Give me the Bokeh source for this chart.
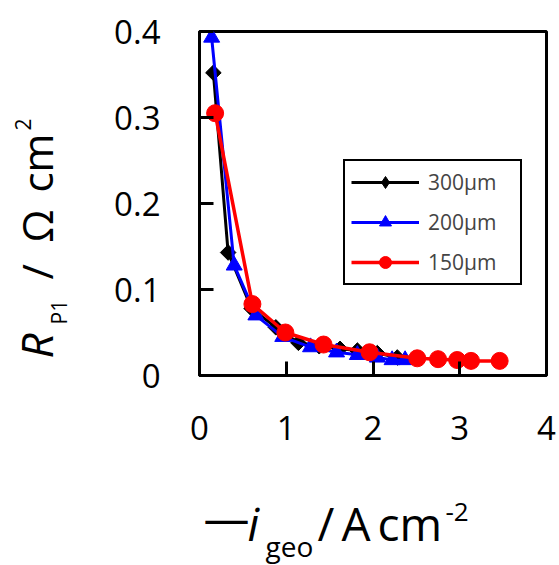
import math
from bokeh.plotting import figure
from bokeh.models import Range1d, FixedTicker, Label, Legend, LegendItem
from bokeh.layouts import row, column
from bokeh.embed import file_html
from bokeh.resources import INLINE

# ---- data ----
x300 = [0.16, 0.33, 0.60, 0.88, 1.14, 1.38, 1.62, 1.82, 2.05, 2.28]
y300 = [0.352, 0.143, 0.078, 0.056, 0.038, 0.034, 0.031, 0.029, 0.026, 0.021]

x200 = [0.14, 0.40, 0.65, 0.96, 1.28, 1.58, 1.82, 2.05, 2.22, 2.37]
y200 = [0.393, 0.128, 0.070, 0.045, 0.033, 0.027, 0.024, 0.021, 0.018, 0.018]

x150 = [0.18, 0.61, 0.99, 1.43, 1.96, 2.51, 2.75, 2.97, 3.13, 3.46]
y150 = [0.305, 0.083, 0.050, 0.036, 0.027, 0.020, 0.019, 0.018, 0.017, 0.017]

series_labels = ["300µm", "200µm", "150µm"]
x_ticks = [0, 1, 2, 3, 4]
y_ticks = [0, 0.1, 0.2, 0.3, 0.4]
y_tick_labels = ["0", "0.1", "0.2", "0.3", "0.4"]

FONT = "Open Sans"

W, H = 559, 565
LW = 80            # width of the strip holding the y-axis title
TH = 85            # height of the strip holding the x-axis title
FL, FR, FT, FB = 199, 546, 31, 375   # frame edges in page px

# ---------------- main chart ----------------
p = figure(width=W - LW, height=H - TH, output_backend="svg", toolbar_location=None,
           x_range=Range1d(0, 4), y_range=Range1d(0, 0.4),
           min_border_left=FL - LW, min_border_right=W - FR,
           min_border_top=FT, min_border_bottom=(H - TH) - FB)
p.background_fill_color = "white"
p.border_fill_color = "white"
p.outline_line_color = "black"
p.outline_line_width = 3
p.outline_line_alpha = 1
p.xgrid.visible = False
p.ygrid.visible = False

for ax in (p.xaxis[0], p.yaxis[0]):
    ax.axis_line_width = 3
    ax.axis_line_color = "black"
    ax.major_tick_in = 14
    ax.major_tick_out = 0
    ax.major_tick_line_width = 3
    ax.major_tick_line_color = "black"
    ax.minor_tick_line_color = None
    ax.major_label_text_font = FONT
    ax.major_label_text_font_size = "33px"
    ax.major_label_text_color = "black"

p.xaxis.ticker = FixedTicker(ticks=x_ticks)
p.yaxis.ticker = FixedTicker(ticks=y_ticks)
p.yaxis.major_label_overrides = {t: s for t, s in zip(y_ticks, y_tick_labels)}
p.xaxis.major_label_standoff = 40
p.yaxis.major_label_standoff = 39

l300 = p.line(x300, y300, line_color="black", line_width=3)
d300 = p.scatter(x300, y300, marker="diamond", size=13,
                 fill_color="black", line_color="black")
p.scatter(x300, y300, marker="square", angle=math.pi / 4, size=11,
          fill_color="black", line_color="black")

l200 = p.line(x200, y200, line_color="blue", line_width=3)
m200 = p.scatter(x200, y200, marker="triangle", size=16,
                 fill_color="blue", line_color="blue")

l150 = p.line(x150, y150, line_color="red", line_width=3.5)
m150 = p.scatter(x150, y150, marker="circle", size=17,
                 fill_color="red", line_color="red")

lg = Legend(items=[
    LegendItem(label=series_labels[0], renderers=[l300, d300]),
    LegendItem(label=series_labels[1], renderers=[l200, m200]),
    LegendItem(label=series_labels[2], renderers=[l150, m150]),
])
lg.location = (343 - FL, FB - 285)
lg.border_line_color = "black"
lg.border_line_width = 2
lg.border_line_alpha = 1
lg.background_fill_alpha = 1
lg.padding = 6
lg.spacing = 10
lg.margin = 0
lg.glyph_height = 30
lg.glyph_width = 68
lg.label_height = 30
lg.label_width = 86
lg.label_standoff = 9
lg.label_text_font = FONT
lg.label_text_font_size = "21px"
lg.label_text_baseline = "middle"
p.add_layout(lg, "center")


# ---------------- title strips (coordinates = page pixels) ----------------
def strip(x0, x1, y0, y1, left_border=0):
    f = figure(frame_width=x1 - x0, frame_height=y1 - y0, output_backend="svg",
               toolbar_location=None, x_axis_type=None, y_axis_type=None,
               x_range=Range1d(x0, x1), y_range=Range1d(y1, y0),
               min_border=0, min_border_left=left_border, min_border_right=0,
               min_border_top=0, min_border_bottom=0, title=None)
    f.outline_line_color = None
    f.background_fill_color = "white"
    f.border_fill_color = "white"
    f.xgrid.visible = False
    f.ygrid.visible = False
    return f


SHIFT = 0.45   # rendered baseline sits this many em "below" the anchor


def put(f, text, px, py, size, style="normal", angle=0.0):
    # (px, py) is the wanted baseline start; compensate the renderer's offset
    if angle:
        px = px - SHIFT * size
    else:
        py = py - SHIFT * size
    f.add_layout(Label(x=px, y=py, text=text, angle=angle,
                       text_font=FONT, text_font_size=f"{size}px",
                       text_font_style=style, text_color="black",
                       text_align="left", text_baseline="alphabetic"))


# frame of this strip starts at page x = FL (aligned under the main frame)
xt = strip(FL, W, H - TH, H, left_border=FL - LW)
# x-axis title: —i_geo/A cm^-2
put(xt, "—", 203, 537, 46)
put(xt, "i", 247, 543, 46, "italic")
put(xt, "geo", 265, 558, 28)
put(xt, "/", 317, 543, 46)
put(xt, "A", 341, 543, 46)
put(xt, "cm", 377, 543, 46)
put(xt, "-2", 445, 523, 26)

yt = strip(0, LW, 0, H)
# y-axis title: R_P1 / Ω cm^2 (rotated)
rot = math.pi / 2
put(yt, "R", 55, 358, 44, "italic", rot)
put(yt, "P1", 68, 324, 21, "normal", rot)
put(yt, "/", 55, 279, 42, "normal", rot)
put(yt, "Ω", 55, 242, 42, "normal", rot)
put(yt, "cm", 55, 192, 42, "normal", rot)
put(yt, "2", 32, 130, 21, "normal", rot)

layout = row(yt, column(p, xt, spacing=0), spacing=0)
open("out.html", "w").write(file_html(layout, INLINE))
